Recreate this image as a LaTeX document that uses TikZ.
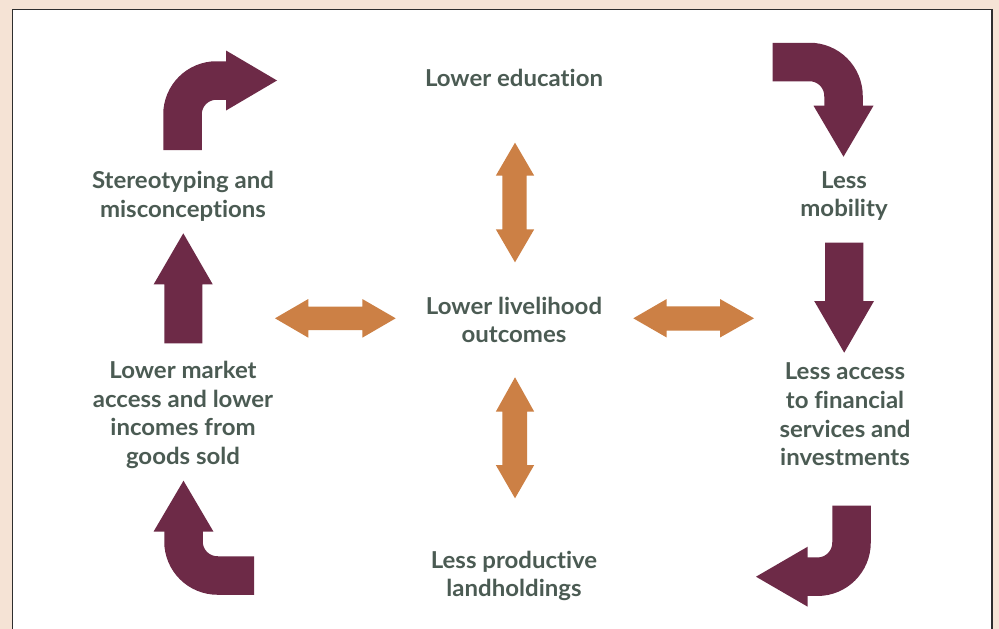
\documentclass[tikz,border=0pt]{standalone}
\usepackage{fontspec}
\setmainfont{Lato}[UprightFont=* Bold,Ligatures={NoCommon,NoRare},FakeStretch=1.03]
\begin{document}
\begin{tikzpicture}[x=1pt,y=-1pt,
  maroonarrow/.style={draw=none,fill=maroon},
  maroonshaft/.style={draw=maroon,line width=38.5pt,rounded corners=34pt},
  orangearrow/.style={draw=none,fill=ochre},
  caption/.style={align=center,text=textgrey,inner sep=0pt,
    font=\fontsize{23.3}{28.6}\selectfont}]
\definecolor{peach}{HTML}{F5E3D5}
\definecolor{maroon}{HTML}{6D2A47}
\definecolor{ochre}{HTML}{CC8045}
\definecolor{textgrey}{HTML}{4B5B53}
\definecolor{frame}{HTML}{2E2E2E}
\useasboundingbox (0,0) rectangle (999,629);
% page background and white panel
\fill[peach] (0,0) rectangle (999,629);
\fill[white] (12.5,9.5) rectangle (992,629);
\draw[frame,line width=1.5pt] (12.5,629) -- (12.5,9.5) -- (992,9.5) -- (992,629);

% captions
\node[caption] (edu)   at (514,78)  {Lower education};
\node[caption] (stereo) at (183,196) {Stereotyping and\\misconceptions};
\node[caption] (mob)   at (844,196) {Less\\mobility};
\node[caption] (live)  at (514,320) {Lower livelihood\\outcomes};
\node[caption] (market) at (183,415) {Lower market\\access and lower\\incomes from\\goods sold};
\node[caption] (fin)   at (845,414.5) {Less access\\to financial\\services and\\investments};
\node[caption] (land)  at (514,576) {Less productive\\landholdings};

% turning arrow, top left: up then right
\draw[maroonshaft] (182.5,150) -- (182.5,80.5) -- (227,80.5);
\fill[maroonarrow] (226,50.5) -- (277,80.5) -- (226,110.5) -- cycle;
% turning arrow, top right: right then down
\draw[maroonshaft] (772.7,62) -- (843.5,62) -- (843.5,106.7);
\fill[maroonarrow] (813.5,105.7) -- (873.5,105.7) -- (843.5,156.7) -- cycle;
% straight arrow, right: down
\fill[maroonarrow] (825,242.7) -- (863.3,242.7) -- (863.3,301) -- (874,301)
  -- (844.2,352.7) -- (814.2,301) -- (825,301) -- cycle;
% turning arrow, bottom right: down then left
\draw[maroonshaft] (851.5,505.7) -- (851.5,576.7) -- (806.7,576.7);
\fill[maroonarrow] (807.7,546.7) -- (807.7,606.7) -- (756,576.7) -- cycle;
% turning arrow, bottom left: left then up
\draw[maroonshaft] (254,575.5) -- (183.5,575.5) -- (183.5,530.7);
\fill[maroonarrow] (153.5,531.7) -- (213.5,531.7) -- (183.5,480.7) -- cycle;
% straight arrow, left: up
\fill[maroonarrow] (164.3,343.3) -- (202.3,343.3) -- (202.3,284.3) -- (212.7,284.3)
  -- (183.3,233.3) -- (153.7,284.3) -- (164.3,284.3) -- cycle;

% double-headed arrows around the centre
\fill[orangearrow] (275,318.3) -- (308.3,299) -- (308.3,306.5) -- (362.3,306.5)
  -- (362.3,299) -- (395.7,318.3) -- (362.3,337.7) -- (362.3,330.2)
  -- (308.3,330.2) -- (308.3,337.7) -- cycle;
\fill[orangearrow] (633.3,318.3) -- (666.7,299) -- (666.7,306.3) -- (720,306.3)
  -- (720,299) -- (754,318.3) -- (720,337.5) -- (720,330.5)
  -- (666.7,330.5) -- (666.7,337.5) -- cycle;
\fill[orangearrow] (515,142.7) -- (534.2,175.7) -- (526.7,175.7) -- (526.7,229.3)
  -- (534.2,229.3) -- (515,262.3) -- (495.8,229.3) -- (502.4,229.3)
  -- (502.4,175.7) -- (495.8,175.7) -- cycle;
\fill[orangearrow] (515,377.3) -- (534.2,411.7) -- (527,411.7) -- (527,465)
  -- (534.2,465) -- (515,498.3) -- (495.8,465) -- (502.4,465)
  -- (502.4,411.7) -- (495.8,411.7) -- cycle;
\end{tikzpicture}
\end{document}
